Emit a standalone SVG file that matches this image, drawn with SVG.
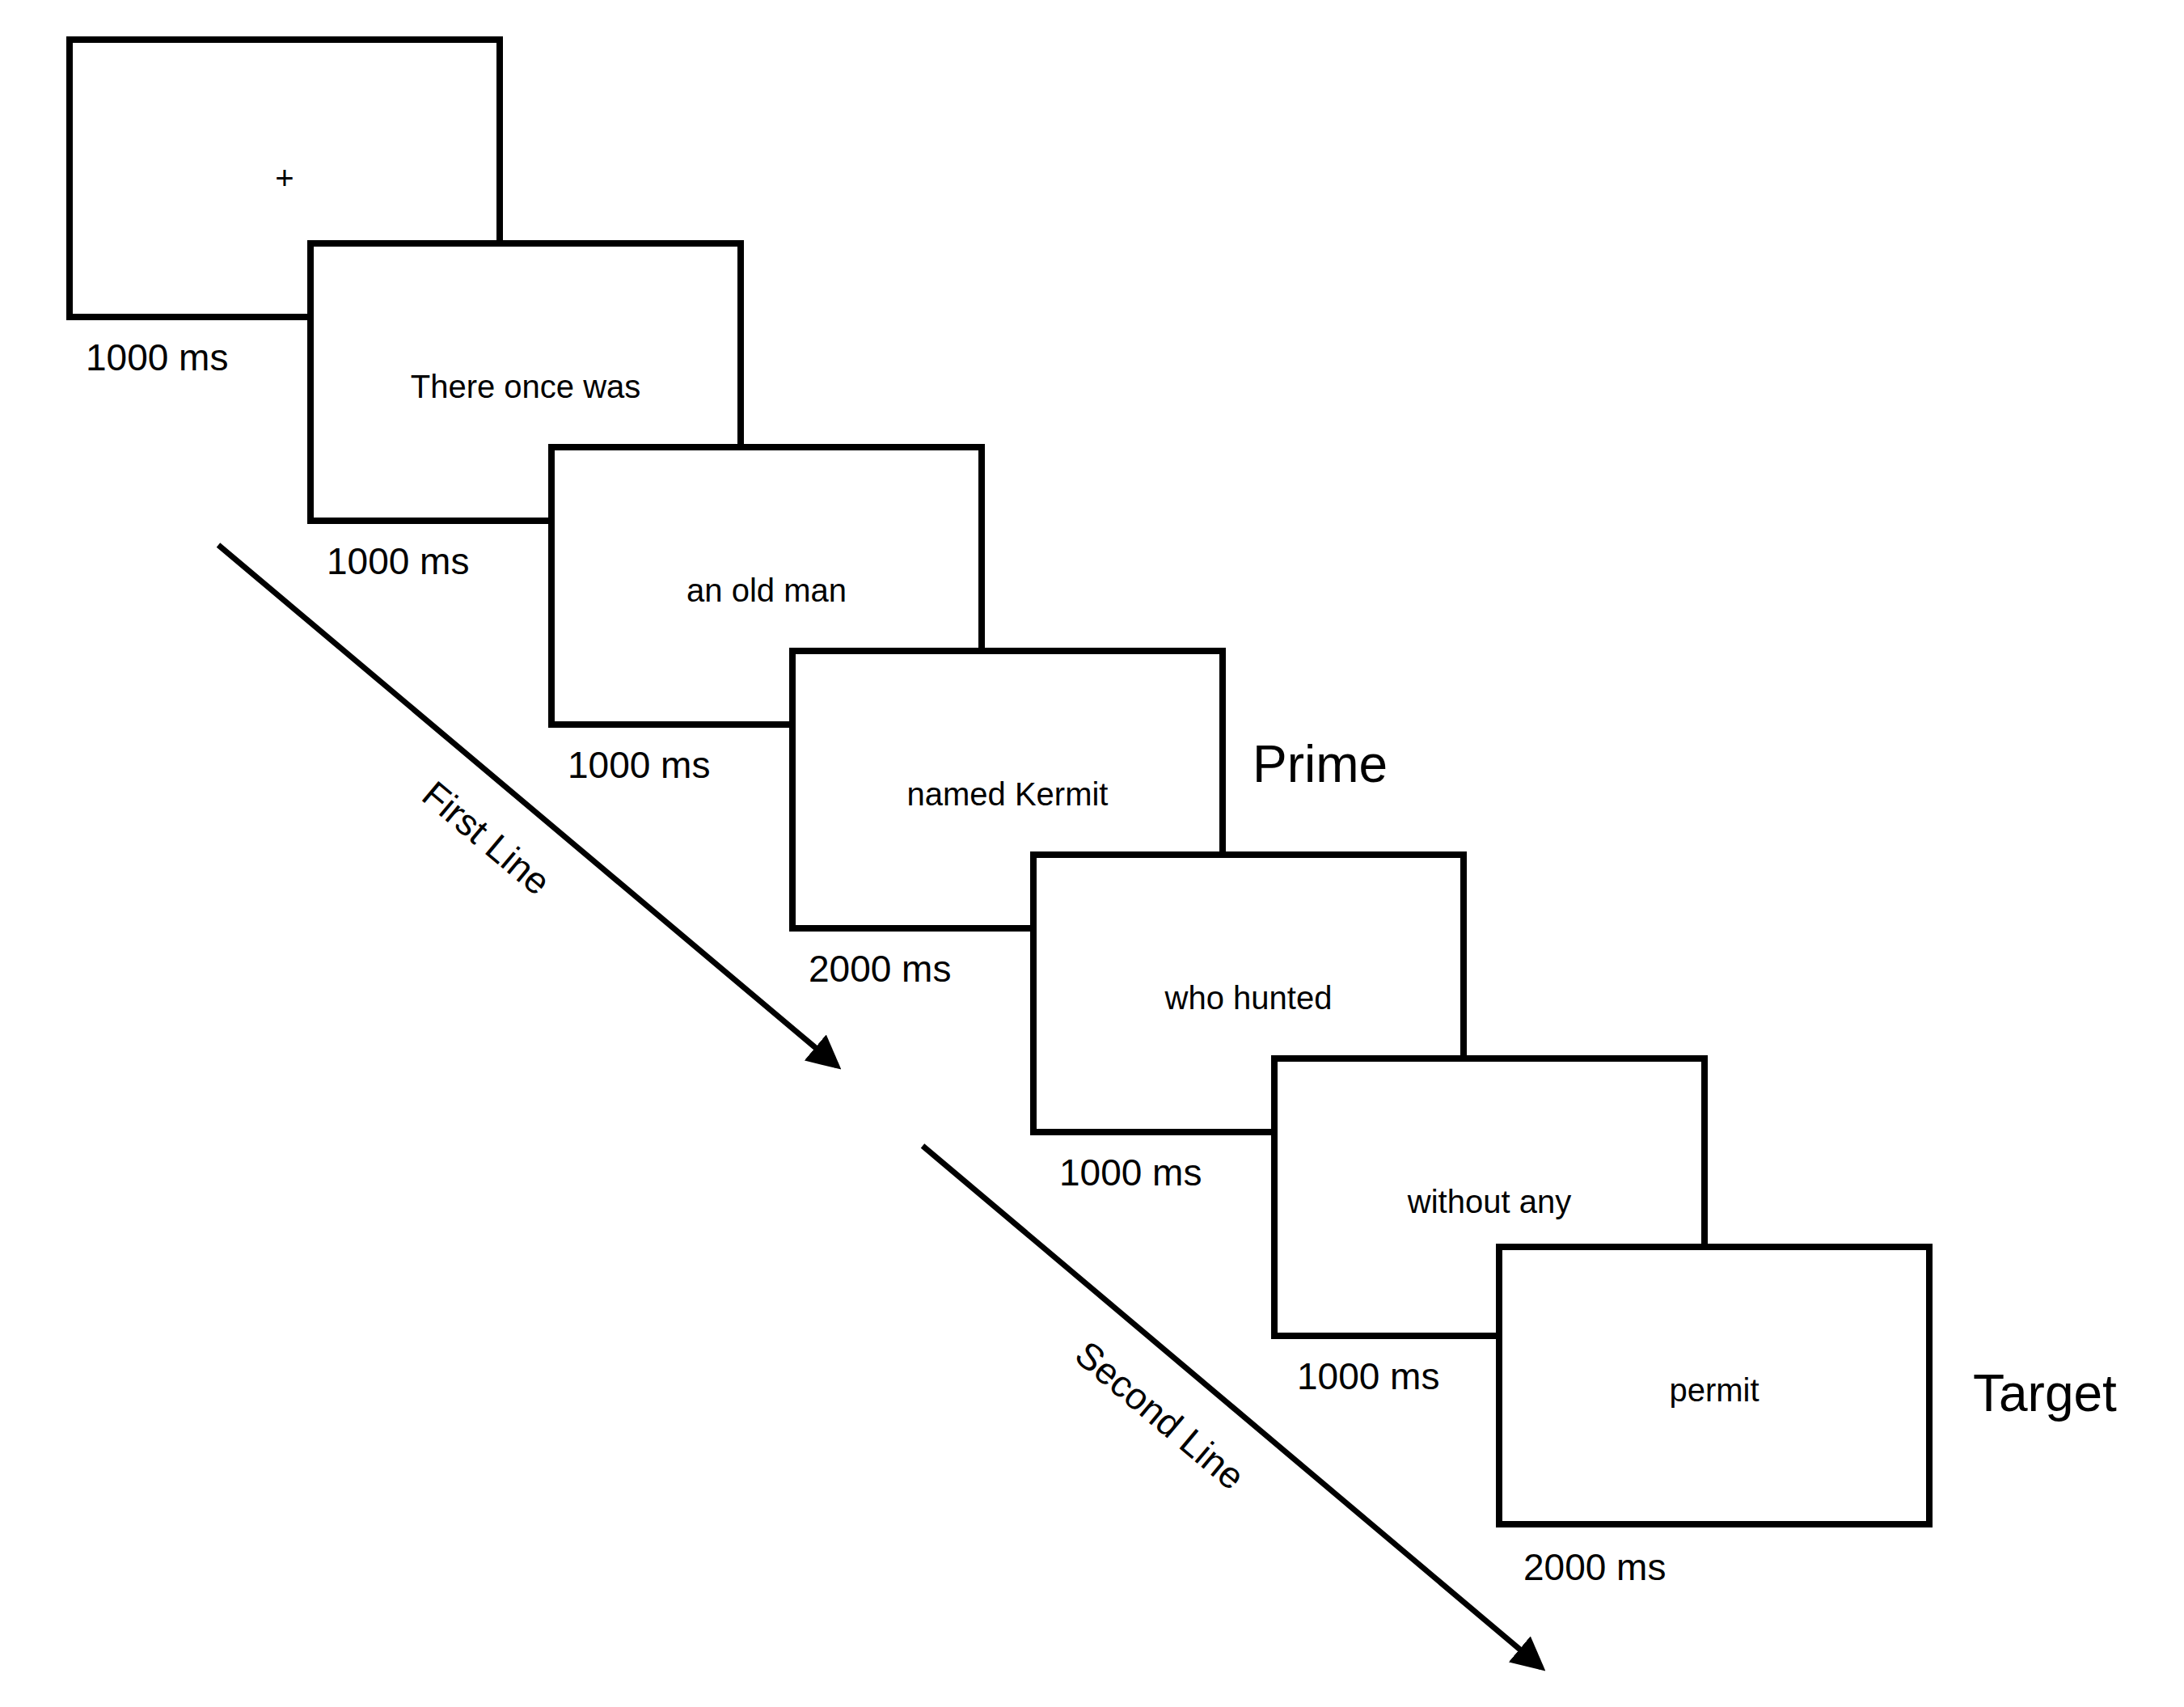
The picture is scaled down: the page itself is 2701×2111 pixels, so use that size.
<svg xmlns="http://www.w3.org/2000/svg" width="2701" height="2111" viewBox="0 0 2701 2111">
<style>
.b{fill:#fff;stroke:#000;stroke-width:8}
text{font-family:"Liberation Sans",Arial,sans-serif;fill:#000}
.t{font-size:40px;text-anchor:middle}
.d{font-size:46px}
.k{font-size:64px}
.c{stroke:#000;stroke-width:7;fill:none}
</style>
<defs><marker id="a" markerWidth="6" markerHeight="6" refX="5" refY="3" orient="auto" markerUnits="strokeWidth"><path d="M0,0 L6,3 L0,6 z" fill="#000"/></marker></defs>
<rect width="2701" height="2111" fill="#fff"/>
<g id="s1"><rect class="b" x="86" y="49" width="532" height="343"/><text class="t" x="352" y="234">+</text><text class="d" x="106" y="458">1000 ms</text></g>
<g id="s2"><rect class="b" x="384" y="301" width="532" height="343"/><text class="t" x="650" y="492">There once was</text><text class="d" x="404" y="710">1000 ms</text></g>
<g id="s3"><rect class="b" x="682" y="553" width="532" height="343"/><text class="t" x="948" y="744">an old man</text><text class="d" x="702" y="962">1000 ms</text></g>
<g id="s4"><rect class="b" x="980" y="805" width="532" height="343"/><text class="t" x="1246" y="996">named Kermit</text><text class="d" x="1000" y="1214">2000 ms</text><text class="k" x="1549" y="967">Prime</text></g>
<g id="s5"><rect class="b" x="1278" y="1057" width="532" height="343"/><text class="t" x="1544" y="1248">who hunted</text><text class="d" x="1310" y="1466">1000 ms</text></g>
<g id="s6"><rect class="b" x="1576" y="1309" width="532" height="343"/><text class="t" x="1842" y="1500">without any</text><text class="d" x="1604" y="1718">1000 ms</text></g>
<g id="s7"><rect class="b" x="1854" y="1542" width="532" height="343"/><text class="t" x="2120" y="1733">permit</text><text class="d" x="1884" y="1954">2000 ms</text><text class="k" x="2440" y="1745">Target</text></g>
<g id="connectors">
<line class="c" x1="270" y1="674" x2="1035" y2="1318" marker-end="url(#a)"/>
<line class="c" x1="1141" y1="1417" x2="1906" y2="2062" marker-end="url(#a)"/>
<text class="d" x="601" y="1052" text-anchor="middle" transform="rotate(40 601 1037)">First Line</text>
<text class="d" x="1434" y="1766" text-anchor="middle" transform="rotate(40 1434 1751)">Second Line</text>
</g>
</svg>
